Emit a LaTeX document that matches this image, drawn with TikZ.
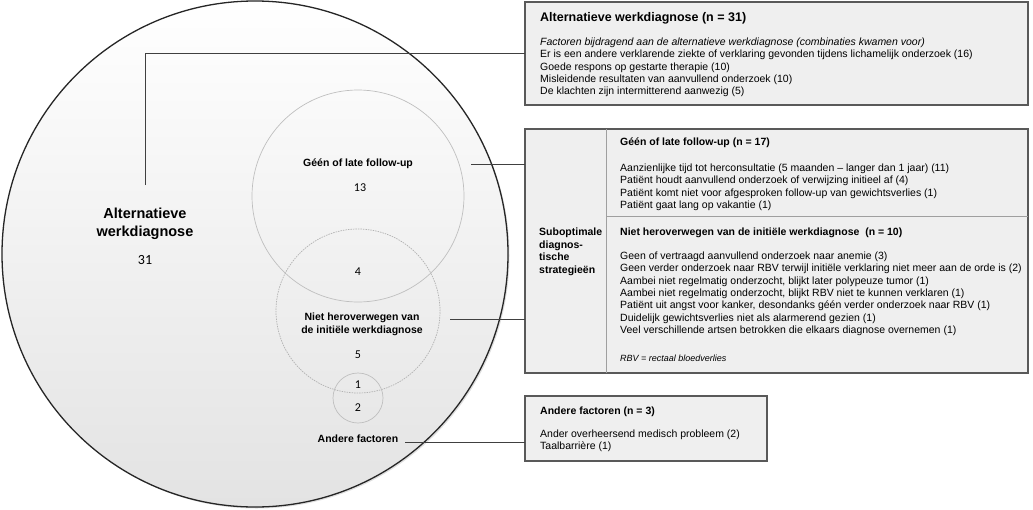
\documentclass[tikz,border=0pt]{standalone}
\usepackage{fontspec}
\setmainfont{Liberation Sans}
\newfontfamily\numfont{Carlito}
\usetikzlibrary{shadows}
\definecolor{boxgray}{HTML}{EFEFEF}
\definecolor{rimgray}{HTML}{595959}
\definecolor{linegray}{HTML}{404040}
\tikzset{
  infobox/.style={draw=rimgray, line width=1.3pt, fill=boxgray, inner sep=0, outer sep=0},
  divider/.style={draw=gray!75, line width=0.8pt},
  venn/.style={circle, draw=gray!50, line width=0.7pt, inner sep=0, outer sep=0},
  link/.style={draw=linegray, line width=0.9pt},
  body/.style={anchor=base west, align=left, inner sep=0, font=\fontsize{10.5}{12.3}\selectfont},
  head/.style={anchor=base west, align=left, inner sep=0, font=\fontsize{10.5}{12.4}\selectfont\bfseries},
  lbl/.style={align=center, inner sep=0, font=\fontsize{10.5}{13}\selectfont\bfseries},
  num/.style={inner sep=0, font=\numfont\fontsize{12}{14}\selectfont}
}
\begin{document}
\begin{tikzpicture}[x=1pt, y=-1pt]
\useasboundingbox (0,0) rectangle (1033,509);

\node[circle, draw=black!85, line width=1.3pt, top color=white, bottom color=black!11,
  minimum size=506pt, inner sep=0, outer sep=0,
  drop shadow={opacity=0.25, shadow xshift=1.5pt, shadow yshift=-1.5pt}] (altcirc) at (255,254) {};
\node[venn, minimum size=212pt] (geencirc) at (358,196) {};
\node[venn, draw=gray!60, dash pattern=on 1.5pt off 1pt, minimum size=164pt] (nietcirc) at (358,311) {};
\node[venn, minimum size=50pt] (andcirc) at (358,398) {};

\node[lbl, font=\fontsize{14.5}{17.7}\selectfont\bfseries] (altlbl) at (145,224) {Alternatieve\\werkdiagnose};
\node[num, font=\numfont\fontsize{14}{16}\selectfont] (altnum) at (145,260) {31};
\node[lbl] (geenlbl) at (358,164) {Géén of late follow-up};
\node[num] (geennum) at (360,188) {13};
\node[num] (bothnum) at (358,272) {4};
\node[lbl] (nietlbl) at (362,324.5) {Niet heroverwegen van\\de initiële werkdiagnose};
\node[num] (nietnum) at (358,355) {5};
\node[num] (nietandnum) at (358,385) {1};
\node[num] (andnum) at (358,408) {2};
\node[lbl] (andlbl) at (358,439) {Andere factoren};

% boxes on the right (base = last line of each text)
\node[infobox, minimum width=503pt, minimum height=103pt] (boxalt) at (776.5,53.5) {};
\node[infobox, minimum width=503pt, minimum height=244pt] (boxsub) at (776.5,251) {};
\node[infobox, minimum width=242pt, minimum height=65pt] (boxand) at (646,428.5) {};
\draw[divider] ([xshift=81pt]boxsub.north west) -- ([xshift=81pt]boxsub.south west);
\draw[divider] ([shift={(81pt,-87pt)}]boxsub.north west) -- ([yshift=-87pt]boxsub.north east);

\node[head, font=\fontsize{12.5}{14}\selectfont\bfseries] (alttitle) at (540,21) {Alternatieve werkdiagnose (n = 31)};
\node[body] (alttext) at (540,94.7) {\textit{Factoren bijdragend aan de alternatieve werkdiagnose (combinaties kwamen voor)}\\
Er is een andere verklarende ziekte of verklaring gevonden tijdens lichamelijk onderzoek (16)\\
Goede respons op gestarte therapie (10)\\
Misleidende resultaten van aanvullend onderzoek (10)\\
De klachten zijn intermitterend aanwezig (5)};

\node[head] (subtitle) at (539,273) {Suboptimale\\diagnos-\\tische\\strategieën};
\node[head] (geentitle) at (620,145.5) {Géén of late follow-up (n = 17)};
\node[body] (geentext) at (620,208.4) {Aanzienlijke tijd tot herconsultatie (5 maanden – langer dan 1 jaar) (11)\\
Patiënt houdt aanvullend onderzoek of verwijzing initieel af (4)\\
Patiënt komt niet voor afgesproken follow-up van gewichtsverlies (1)\\
Patiënt gaat lang op vakantie (1)};
\node[head] (niettitle) at (620,235.5) {Niet heroverwegen van de initiële werkdiagnose\ \ (n = 10)};
\node[body] (niettext) at (620,333.3) {Geen of vertraagd aanvullend onderzoek naar anemie (3)\\
Geen verder onderzoek naar RBV terwijl initiële verklaring niet meer aan de orde is (2)\\
Aambei niet regelmatig onderzocht, blijkt later polypeuze tumor (1)\\
Aambei niet regelmatig onderzocht, blijkt RBV niet te kunnen verklaren (1)\\
Patiënt uit angst voor kanker, desondanks géén verder onderzoek naar RBV (1)\\
Duidelijk gewichtsverlies niet als alarmerend gezien (1)\\
Veel verschillende artsen betrokken die elkaars diagnose overnemen (1)};
\node[body, font=\fontsize{9}{11}\selectfont\itshape] (rbvnote) at (620,361.5) {RBV = rectaal bloedverlies};

\node[head] (andtitle) at (540,414.5) {Andere factoren (n = 3)};
\node[body] (andtext) at (540,449.8) {Ander overheersend medisch probleem (2)\\Taalbarrière (1)};

\coordinate (altend) at (145,185);
\coordinate (geenend) at (471,164);
\coordinate (nietend) at (450,319);
\coordinate (andend) at (405,442);
\draw[link] (altend) |- (boxalt.west);
\draw[link] (geenend) -- (geenend -| boxsub.west);
\draw[link] (nietend) -- (nietend -| boxsub.west);
\draw[link] (andend) -- (andend -| boxand.west);
\end{tikzpicture}
\end{document}
